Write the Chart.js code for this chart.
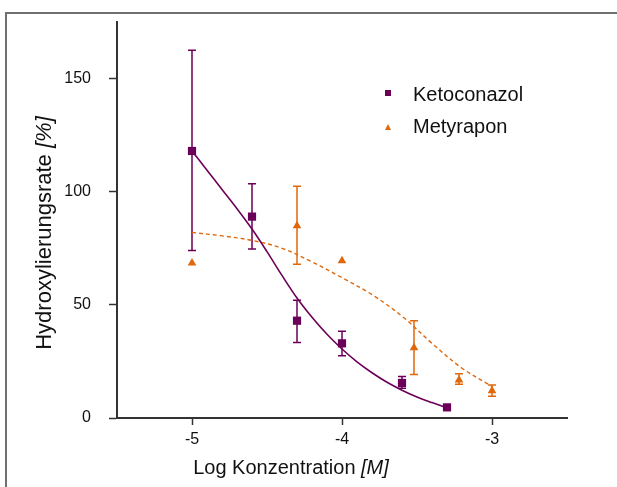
<!DOCTYPE html>
<html>
<head>
<meta charset="utf-8">
<script src="https://cdn.jsdelivr.net/npm/chart.js@4"></script>
<style>
    html, body { margin: 0; padding: 0; background: #fff; }
    body { width: 617px; height: 487px; position: relative; overflow: hidden; font-family: "Liberation Sans", Arial, sans-serif; }
    .frame { position: absolute; left: 5px; top: 12px; width: 700px; height: 600px; border-top: 2px solid #707070; border-left: 2px solid #707070; }
    .wrap { position: absolute; left: 0; top: 0; width: 617px; height: 487px; }
    .xtitle { position: absolute; left: 141px; top: 457px; width: 300px; text-align: center; font-size: 20px; line-height: 20px; color: #111; white-space: nowrap; }
    .ytitle { position: absolute; left: -106px; top: 222px; width: 300px; text-align: center; font-size: 22px; line-height: 22px; color: #111; white-space: nowrap; transform: rotate(-90deg); }
    .legend { position: absolute; left: 385px; top: 84px; font-size: 20px; line-height: 20px; color: #111; }
    .legend .row { position: relative; height: 32px; }
    .legend .lbl { position: absolute; left: 28px; top: 0; white-space: nowrap; }
    .mk-square { position: absolute; left: 0; top: 6px; width: 6px; height: 6px; background: #6b0058; }
    .mk-tri { position: absolute; left: 0; top: 8px; width: 0; height: 0; border-left: 3.5px solid transparent; border-right: 3.5px solid transparent; border-bottom: 6px solid #e0680c; }
</style>
</head>
<body>
<div class="frame"></div>
<div class="wrap"><canvas id="doseChart"></canvas></div>
<div class="xtitle">Log Konzentration <i>[M]</i></div>
<div class="ytitle">Hydroxylierungsrate <i>[%]</i></div>
<div class="legend">
    <div class="row"><span class="mk-square"></span><span class="lbl">Ketoconazol</span></div>
    <div class="row"><span class="mk-tri"></span><span class="lbl">Metyrapon</span></div>
</div>
<script>
// Messwerte (log M -> %)
const ketoX = [-5, -4.6, -4.3, -4, -3.6, -3.3];
const ketoY = [118, 89, 43, 33, 15.5, 4.7];
const ketoHigh = [162.5, 103.5, 52, 38.3, 18.3, 5.5];
const ketoLow = [74, 74.7, 33.4, 27.5, 13.1, 3.8];

const metyX = [-5, -4.3, -4, -3.52, -3.22, -3];
const metyY = [68.5, 85, 69.5, 31, 16.8, 12];
const metyHigh = [null, 102.4, null, 43, 19.5, 14.6];
const metyLow = [null, 68, null, 19.2, 14.9, 9.6];

// Fit-Kurven
const ketoFitX = [-5, -4.9, -4.8, -4.7, -4.6, -4.5, -4.4, -4.3, -4.2, -4.1, -4, -3.9, -3.8, -3.7, -3.6, -3.5, -3.4, -3.3];
const ketoFitY = [118, 109.5, 101, 92.5, 83.5, 73.5, 63, 53, 44.5, 37, 30.5, 24.8, 20, 15.8, 12.3, 9.3, 6.8, 4.5];
const metyFitX = [-5, -4.8, -4.6, -4.4, -4.2, -4, -3.8, -3.6, -3.4, -3.2, -3];
const metyFitY = [82, 80.5, 78.5, 75, 69, 62, 54.5, 45, 33, 22, 14];

const xTicks = [-5, -4, -3];
const yTicks = [0, 50, 100, 150];

const purple = '#6b0058';
const orange = '#e0680c';
const axisColor = '#333';

const toPoints = (xs, ys) => xs.map((x, i) => ({ x: x, y: ys[i] }));

// Fehlerbalken
const errorBars = {
    id: 'errorBars',
    beforeDatasetsDraw(chart) {
        const ctx = chart.ctx;
        const xs = chart.scales.x;
        const ys = chart.scales.y;
        chart.data.datasets.forEach((ds) => {
            if (!ds.errHigh) return;
            ctx.save();
            ctx.strokeStyle = ds.borderColor;
            ctx.lineWidth = 1.5;
            ds.data.forEach((p, i) => {
                const hi = ds.errHigh[i];
                const lo = ds.errLow[i];
                if (hi == null || lo == null) return;
                const px = xs.getPixelForValue(p.x);
                const yHi = ys.getPixelForValue(hi);
                const yLo = ys.getPixelForValue(lo);
                ctx.beginPath();
                ctx.moveTo(px, yHi);
                ctx.lineTo(px, yLo);
                ctx.moveTo(px - 4, yHi);
                ctx.lineTo(px + 4, yHi);
                ctx.moveTo(px - 4, yLo);
                ctx.lineTo(px + 4, yLo);
                ctx.stroke();
            });
            ctx.restore();
        });
    }
};

Chart.defaults.font.family = '"Liberation Sans", Arial, sans-serif';
Chart.defaults.color = '#111';

new Chart(document.getElementById('doseChart'), {
    type: 'scatter',
    data: {
        datasets: [{
            label: 'Ketoconazol Fit',
            data: toPoints(ketoFitX, ketoFitY),
            showLine: true,
            borderColor: purple,
            borderWidth: 1.6,
            pointRadius: 0,
            tension: 0.35
        }, {
            label: 'Metyrapon Fit',
            data: toPoints(metyFitX, metyFitY),
            showLine: true,
            borderColor: orange,
            borderWidth: 1.4,
            borderDash: [4, 3],
            pointRadius: 0,
            tension: 0.35
        }, {
            label: 'Ketoconazol',
            data: toPoints(ketoX, ketoY),
            errHigh: ketoHigh,
            errLow: ketoLow,
            borderColor: purple,
            backgroundColor: purple,
            pointStyle: 'rect',
            pointRadius: 5.8,
            pointBorderWidth: 0
        }, {
            label: 'Metyrapon',
            data: toPoints(metyX, metyY),
            errHigh: metyHigh,
            errLow: metyLow,
            borderColor: orange,
            backgroundColor: orange,
            pointStyle: 'triangle',
            pointRadius: 5,
            pointBorderWidth: 0
        }]
    },
    options: {
        responsive: true,
        maintainAspectRatio: false,
        animation: false,
        layout: { padding: { top: 22, right: 50, left: 0, bottom: 0 } },
        plugins: {
            legend: { display: false },
            tooltip: { enabled: false }
        },
        scales: {
            x: {
                type: 'linear',
                min: -5.5,
                max: -2.5,
                afterFit: (s) => { s.height = 69; s.paddingLeft = 0; s.paddingRight = 0; },
                afterBuildTicks: (s) => { s.ticks = xTicks.map((v) => ({ value: v })); },
                ticks: { font: { size: 16 }, padding: 5, color: '#111' },
                grid: { drawOnChartArea: false, drawTicks: true, tickLength: 7, tickColor: axisColor, tickWidth: 1.5 },
                border: { display: true, color: axisColor, width: 2 }
            },
            y: {
                min: 0,
                max: 175,
                afterFit: (s) => { s.width = 117; s.paddingTop = 0; s.paddingBottom = 0; },
                afterBuildTicks: (s) => { s.ticks = yTicks.map((v) => ({ value: v })); },
                ticks: { font: { size: 16 }, padding: 18, color: '#111' },
                grid: { drawOnChartArea: false, drawTicks: true, tickLength: 8, tickColor: axisColor, tickWidth: 1.5 },
                border: { display: true, color: axisColor, width: 2 }
            }
        }
    },
    plugins: [errorBars]
});
</script>
</body>
</html>
